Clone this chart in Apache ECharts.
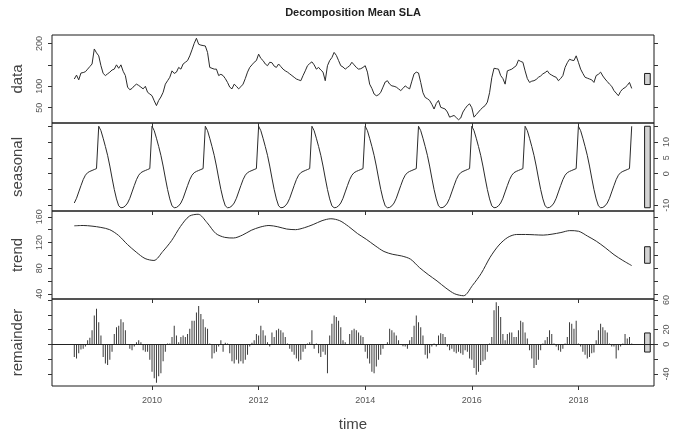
<!DOCTYPE html>
<html>
<head>
<meta charset="utf-8">
<script src="https://cdn.jsdelivr.net/npm/echarts@6/dist/echarts.min.js"></script>
<style>
  html, body { margin: 0; padding: 0; background: #ffffff; }
  #chart { width: 674px; height: 433px; }
</style>
</head>
<body>
<div id="chart"></div>
<script>
// Time base: semi-monthly samples, first one in mid-July 2008
const startYear = 2008 + 13 / 24;
const stepYear = 1 / 24;

// Observed mean SLA
const dataValues = [
  117,126,115,131,132,134,140,146,152,187,178,171,
  148,130,125,129,133,138,140,150,142,150,135,125,
  98,92,95,101,105,102,98,94,100,86,82,78,
  66,55,67,75,86,105,113,121,136,130,133,144,
  140,152,156,160,171,185,200,212,198,196,195,194,
  179,144,142,140,140,125,128,125,118,109,98,94,
  105,100,94,99,105,118,133,144,150,156,160,175,
  165,160,152,148,156,155,147,144,152,146,140,136,
  133,129,125,121,117,115,113,125,136,148,153,157,
  150,140,144,138,133,113,148,160,167,179,172,160,
  148,145,140,144,148,156,150,144,140,141,144,148,
  133,105,95,82,78,80,86,98,110,113,105,101,
  100,98,94,90,95,101,97,94,112,129,133,131,
  109,85,74,71,67,58,47,60,67,51,49,47,
  40,28,30,32,27,22,26,40,48,55,59,50,
  28,34,40,46,51,55,63,85,120,142,141,140,
  125,118,105,136,138,140,144,148,161,158,156,136,
  118,109,112,113,116,121,124,129,132,136,129,126,
  123,121,113,118,125,144,155,163,161,160,171,156,
  140,130,121,119,117,115,109,125,128,133,124,117,
  111,105,100,90,84,78,88,94,97,102,109,95
];

// Seasonal component over one year, starting with the first half of January
const seasonalCycle = [
  15.0,13.6,11.2,8.6,5.8,2.4,-1.4,-5.0,-8.0,-10.2,-10.8,-10.7,
  -10.2,-9.3,-7.8,-5.8,-3.8,-1.9,-0.5,0.3,0.7,1.0,1.3,1.6
];

// Trend component, evenly spaced from the first to the last sample
const trendValues = [
  146,146.5,145.5,143.5,140,131,117,105,95,92,106,123,145,161,164,151,
  134,128,127,131.5,139,144,146.5,144.5,141,140,143,148,154,157,154,145,
  134,125,115,106,101.5,99,94,81,70,60,49,40,37,53,72,97,
  116,128,132.5,132.5,132,131.5,133,135.5,138.5,137.5,130,122,112,101,92,84
];

// Remainder component, one value per sample
const remainderValues = [
  -17,-19,-12,-7,-6,-3,5.5,9,19,39,48,30,12,-17,-26,-28,-21,-10,14,23,25,34,30,19,-1,-6,-8,-3,3,5.5,
  3,-8,-10,-10,-21,-37,-46,-52,-43,-39,-23,-10,1,1,10,25,12,3,10,12,10,14,21,32,32,43,52,41,34,23,21,
  1,-19,-12,-10,-3,5.5,-10,2,1,-12,-23,-26,-21,-26,-23,-26,-21,-14,-3,2,5.5,14,12,25,19,12,3,-3,16,10,
  19,21,19,16,10,1,-6,-10,-14,-19,-23,-21,-10,-6,1,3,19,-6,1,-12,-17,-10,-14,-39,12,28,39,37,32,23,
  5.5,3,-1,14,19,21,19,16,12,10,-10,-19,-26,-37,-39,-30,-21,-14,-6,-1,3,21,19,16,12,5.5,-1,-2.5,-3,-6,
  5.5,10,25,39,30,23,12,-14,-19,-12,-3,1,-3,12,15,14,10,-3,-8,-6,-10,-12,-10,-12,-14,-8,-10,-19,-21,-32,-41,-37,
  -28,-23,-21,-10,1,10,46,57,52,37,14,5.5,14,16,16,10,10,19,32,30,16,8,-8,-19,-32,-28,-21,-8,
  1,5.5,10,19,14,1,-3,-8,-10,-6,1,10,30,28,21,32,1,-3,-10,-14,-19,-17,-12,-11,5.5,19,28,23,19,16,
  1,-3,-3,-19,-8,-3,1,14,8,10,1
];

// Axis ticks and the subset of ticks that carry labels
const yearTicks = [2010, 2012, 2014, 2016, 2018];
const dataTicks = [50, 100, 150, 200];
const dataLabels = [50, 100, 200];
const seasonalTicks = [-10, -5, 0, 5, 10, 15];
const seasonalLabels = [-10, 0, 5, 10];
const trendTicks = [40, 60, 80, 100, 120, 140, 160];
const trendLabels = [40, 80, 120, 160];
const remainderTicks = [-40, -20, 0, 20, 40, 60];
const remainderLabels = [-40, 0, 20, 60];
const panelNames = ['data', 'seasonal', 'trend', 'remainder'];

// ---- derived structures ----
const n = dataValues.length;
const times = dataValues.map((_, i) => startYear + i * stepYear);
const endYear = times[n - 1];
const phase0 = Math.round((startYear % 1) * 24);
const seasonalValues = times.map((_, i) => seasonalCycle[(i + phase0) % 24]);
const trendTimes = trendValues.map((_, j) => startYear + j * (endYear - startYear) / (trendValues.length - 1));

const span = endYear - startYear;
const xMin = startYear - 0.04 * span;
const xMax = endYear + 0.04 * span;

const components = [
  { values: dataValues, xs: times, ticks: dataTicks, labels: dataLabels },
  { values: seasonalValues, xs: times, ticks: seasonalTicks, labels: seasonalLabels },
  { values: trendValues, xs: trendTimes, ticks: trendTicks, labels: trendLabels },
  { values: remainderValues, xs: times, ticks: remainderTicks, labels: remainderLabels }
];
components.forEach(c => {
  c.lo = Math.min(...c.values);
  c.hi = Math.max(...c.values);
  const d = c.hi - c.lo;
  c.min = c.lo - 0.04 * d;
  c.max = c.hi + 0.04 * d;
});
// every range bar has the height of the smallest component range
const barSpan = Math.min(...components.map(c => c.hi - c.lo));
const dx = (xMax - xMin) / 64;

const FONT = "'Liberation Sans', Arial, Helvetica, sans-serif";
const panelTop = 35, panelH = 88;
const plain = v => String(v);

const grids = [], xAxes = [], yAxes = [], series = [];

components.forEach((c, p) => {
  const last = p === components.length - 1;
  const labelsRight = p % 2 === 1;
  grids.push({
    left: 52, right: 20, top: panelTop + p * panelH, height: panelH,
    show: true, borderColor: '#1a1a1a', borderWidth: 1, containLabel: false
  });
  xAxes.push({
    type: 'value', gridIndex: p, min: xMin, max: xMax,
    axisLine: { show: false, onZero: false },
    splitLine: { show: false },
    axisTick: { show: true, customValues: yearTicks, length: 4, lineStyle: { color: '#333' } },
    axisLabel: {
      show: last, customValues: yearTicks, fontSize: 9, color: '#555',
      fontFamily: FONT, margin: 10, formatter: plain
    },
    name: last ? 'time' : '', nameLocation: 'middle', nameGap: 31,
    nameTextStyle: { fontSize: 15, color: '#444', fontFamily: FONT }
  });
  [false, true].forEach(isRight => {
    const showLabels = isRight === labelsRight;
    yAxes.push({
      type: 'value', gridIndex: p, position: isRight ? 'right' : 'left',
      min: c.min, max: c.max,
      axisLine: { show: false, onZero: false },
      splitLine: { show: false },
      axisTick: { show: true, customValues: c.ticks, length: 4, lineStyle: { color: '#333' } },
      axisLabel: {
        show: showLabels, customValues: c.labels, rotate: 90, fontSize: 9,
        color: '#555', fontFamily: FONT, margin: 8, formatter: plain
      },
      name: isRight ? '' : panelNames[p], nameLocation: 'middle', nameRotate: 90, nameGap: 27,
      nameTextStyle: { fontSize: 15, color: '#444', fontFamily: FONT }
    });
  });

  const pts = c.values.map((v, i) => [c.xs[i], v]);
  if (last) {
    series.push({
      type: 'bar', xAxisIndex: p, yAxisIndex: 2 * p, data: pts,
      barWidth: 1, itemStyle: { color: '#3a3a3a' }, silent: true,
      markLine: {
        silent: true, symbol: 'none', label: { show: false },
        lineStyle: { color: '#222', type: 'solid', width: 1 },
        data: [{ yAxis: 0 }]
      }
    });
  } else {
    series.push({
      type: 'line', xAxisIndex: p, yAxisIndex: 2 * p, data: pts,
      showSymbol: false, smooth: p === 2 ? 0.3 : false,
      lineStyle: { color: '#2b2b2b', width: 1 }, silent: true
    });
  }

  // range bar at the right end of the panel
  const mid = (c.lo + c.hi) / 2;
  series.push({
    type: 'custom', xAxisIndex: p, yAxisIndex: 2 * p, silent: true,
    data: [[xMax - dx, mid - barSpan / 2, xMax - 0.4 * dx, mid + barSpan / 2]],
    encode: { x: [0, 2], y: [1, 3] },
    renderItem: (params, api) => {
      const a = api.coord([api.value(0), api.value(3)]);
      const b = api.coord([api.value(2), api.value(1)]);
      return {
        type: 'rect',
        shape: { x: a[0], y: a[1], width: b[0] - a[0], height: b[1] - a[1] },
        style: { fill: '#d3d3d3', stroke: '#1a1a1a', lineWidth: 1 }
      };
    }
  });
});

const chart = echarts.init(document.getElementById('chart'), null, { renderer: 'canvas' });
chart.setOption({
  backgroundColor: '#ffffff',
  animation: false,
  graphic: [{
    type: 'text', x: 353, y: 13, silent: true,
    style: {
      text: 'Decomposition Mean SLA', fontSize: 11, fontWeight: 'bold',
      fontFamily: FONT, fill: '#222', align: 'center', verticalAlign: 'middle'
    }
  }],
  grid: grids,
  xAxis: xAxes,
  yAxis: yAxes,
  series: series
});
</script>
</body>
</html>
